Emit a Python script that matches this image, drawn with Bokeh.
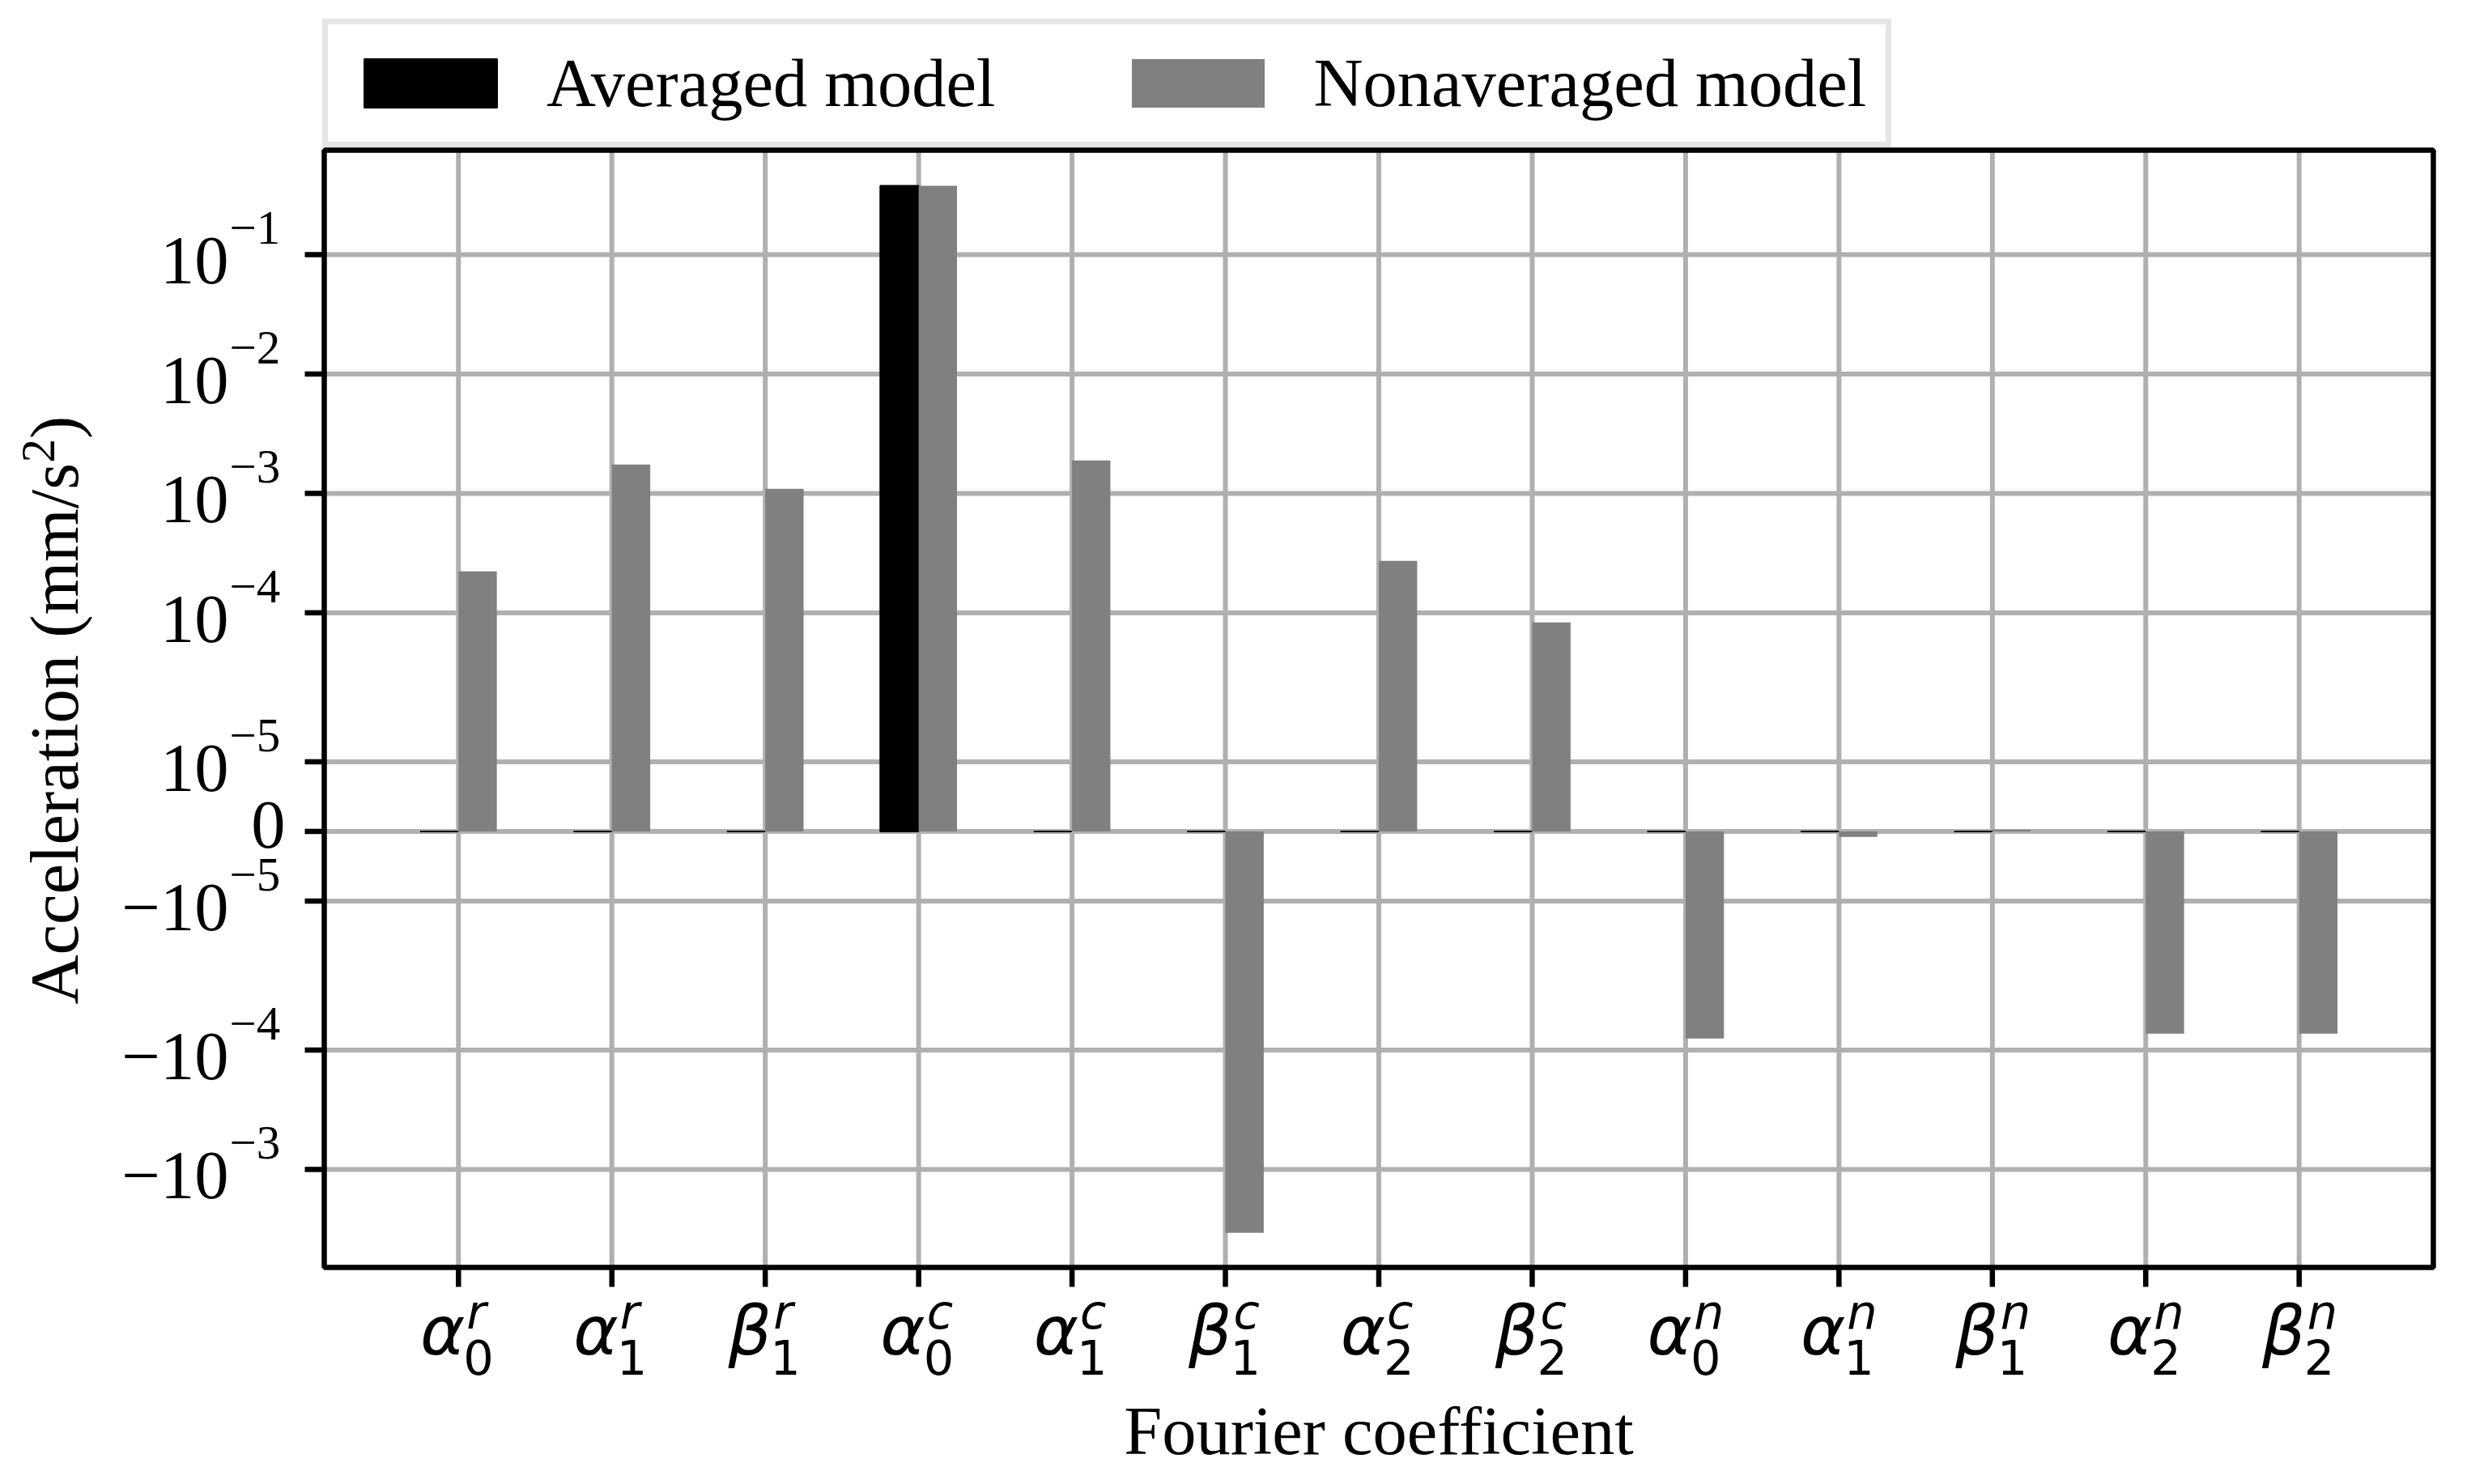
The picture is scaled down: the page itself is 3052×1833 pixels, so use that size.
import math
from bokeh.plotting import figure
from bokeh.models import Label, Legend, LegendItem, Range1d, ColumnDataSource
from bokeh.embed import file_html
from bokeh.resources import INLINE

# ---------------- data ----------------
coef_base = ["α", "α", "β", "α", "α", "β", "α", "β", "α", "α", "β", "α", "β"]
coef_sup = ["r", "r", "r", "c", "c", "c", "c", "c", "n", "n", "n", "n", "n"]
coef_sub = ["0", "1", "1", "0", "1", "1", "2", "2", "0", "1", "1", "2", "2"]
averaged = [0, 0, 0, 0.377, 0, 0, 0, 0, 0, 0, 0, 0, 0]
nonaveraged = [2.22e-4, 1.745e-3, 1.093e-3, 0.377, 1.888e-3, -3.4e-3, 2.72e-4,
               8.3e-5, -8.0e-5, -8e-7, 2.5e-7, -7.3e-5, -7.3e-5]
ytick_values = [1e-1, 1e-2, 1e-3, 1e-4, 1e-5, 0, -1e-5, -1e-4, -1e-3]
ytick_base = ["10", "10", "10", "10", "10", "0", "−10", "−10", "−10"]
ytick_exp = ["−1", "−2", "−3", "−4", "−5", "", "−5", "−4", "−3"]
series_labels = ["Averaged model", "Nonaveraged model"]

# ---------------- symlog transform ----------------
LINTHRESH = 1.905e-5
LINSCALE = 1.0 / (1.0 - 0.1)


def symlog(v):
    a = abs(v)
    if a <= LINTHRESH:
        return v / LINTHRESH * LINSCALE
    return math.copysign(LINSCALE + math.log10(a / LINTHRESH), v)


n = len(coef_base)
idx = list(range(n))
bar_w = 0.25
X0, X1 = -0.875, n - 1 + 0.875
Y0, Y1 = -3.652, 5.706

# canvas / plot-area geometry (pixels)
W, H = 3036, 1817
FL, FR, FT, FB = 400, 3005, 185, 1565
sx = (FR - FL) / (X1 - X0)
sy = (FB - FT) / (Y1 - Y0)

serif = "Liberation Serif"
FS_PX, FS_SMALL_PX = 84.5, 59
MATH_PX, MATH_SMALL_PX = 84, 59
# baseline correction for the text renderer (fraction of the font size)
SERIF_FIX, SANS_FIX = 0.37, 0.42

p = figure(width=W, height=H, output_backend="svg", toolbar_location=None, title=None,
           x_range=Range1d(X0 - FL / sx, X1 + (W - FR) / sx),
           y_range=Range1d(Y0 - (H - FB) / sy, Y1 + FT / sy),
           x_axis_type=None, y_axis_type=None, min_border=0)
p.background_fill_color = "white"
p.border_fill_color = "white"
p.outline_line_color = None

yt = [symlog(v) for v in ytick_values]

# grid lines
p.segment(x0=idx, x1=idx, y0=[Y0] * n, y1=[Y1] * n, line_color="#b0b0b0", line_width=6)
p.segment(x0=[X0] * len(yt), x1=[X1] * len(yt), y0=yt, y1=yt, line_color="#b0b0b0", line_width=6)

# bars
src_a = ColumnDataSource(dict(x=[i - bar_w / 2 for i in idx],
                              top=[symlog(v) for v in averaged], bottom=[0.0] * n))
src_n = ColumnDataSource(dict(x=[i + bar_w / 2 for i in idx],
                              top=[symlog(v) for v in nonaveraged], bottom=[0.0] * n))
r_a = p.vbar(x="x", top="top", bottom="bottom", width=bar_w, source=src_a,
             fill_color="black", line_color="black", line_width=2)
r_n = p.vbar(x="x", top="top", bottom="bottom", width=bar_w, source=src_n,
             fill_color="#808080", line_color=None)

# axes frame and ticks
p.quad(left=[X0], right=[X1], bottom=[Y0], top=[Y1], fill_color=None,
       line_color="black", line_width=6.5)
tick_len = 24
p.segment(x0=idx, x1=idx, y0=[Y0] * n, y1=[Y0 - tick_len / sy] * n,
          line_color="black", line_width=6.5)
p.segment(x0=[X0] * len(yt), x1=[X0 - tick_len / sx] * len(yt), y0=yt, y1=yt,
          line_color="black", line_width=6.5)


def txt(x, y, text, dx, dy, size, font=serif, fix=SERIF_FIX, align="left",
        style="normal", angle=0.0):
    # dx, dy: baseline anchor offset in pixels (dy positive = up)
    shift = fix * size
    if angle:
        ox, oy = dx - shift, dy
    else:
        ox, oy = dx, dy + shift
    p.add_layout(Label(x=x, y=y, x_offset=ox, y_offset=oy, text=text, angle=angle,
                       text_align=align, text_baseline="alphabetic",
                       text_font=font, text_font_style=style,
                       text_font_size=f"{size}px", text_color="black"))


# y tick labels (10 with superscript exponent)
for t, b, e in zip(yt, ytick_base, ytick_exp):
    if e:
        txt(X0, t, b, -118, -39, FS_PX, align="right")
        txt(X0, t, e, -117, 11, FS_SMALL_PX, align="left")
    else:
        txt(X0, t, b, -48, -23, FS_PX, align="right")

# x tick labels (greek letter with super/subscripts)
for i, b, su, sb in zip(idx, coef_base, coef_sup, coef_sub):
    txt(i, Y0, b, 8, -114, MATH_PX, font="DejaVu Sans", fix=SANS_FIX,
        align="right", style="italic")
    txt(i, Y0, sb, 6, -136, MATH_SMALL_PX, font="DejaVu Sans", fix=SANS_FIX)
    txt(i, Y0, su, 10, -80, MATH_SMALL_PX, font="DejaVu Sans", fix=SANS_FIX,
        style="italic")

# axis titles
txt((X0 + X1) / 2, Y0, "Fourier coefficient", 0, -233, FS_PX, align="center")
ylab_start = 325
main_len = 669
txt(X0, Y0, "Acceleration (mm/s", -302, ylab_start, FS_PX, angle=math.pi / 2)
txt(X0, Y0, "2", -331, ylab_start + main_len, FS_SMALL_PX, angle=math.pi / 2)
txt(X0, Y0, ")", -302, ylab_start + main_len + 29.5, FS_PX, angle=math.pi / 2)

legend = Legend(items=[LegendItem(label=series_labels[0], renderers=[r_a]),
                       LegendItem(label=series_labels[1], renderers=[r_n])],
                location=(398, 1635), orientation="horizontal",
                glyph_width=205, glyph_height=75, label_standoff=41, spacing=147,
                padding=24, margin=0, border_line_color="#cccccc", border_line_width=7,
                background_fill_color="white", background_fill_alpha=0.8,
                label_text_font=serif, label_text_font_size=f"{FS_PX}px",
                label_text_color="black")
p.add_layout(legend)

open("out.html", "w").write(file_html(p, INLINE))
